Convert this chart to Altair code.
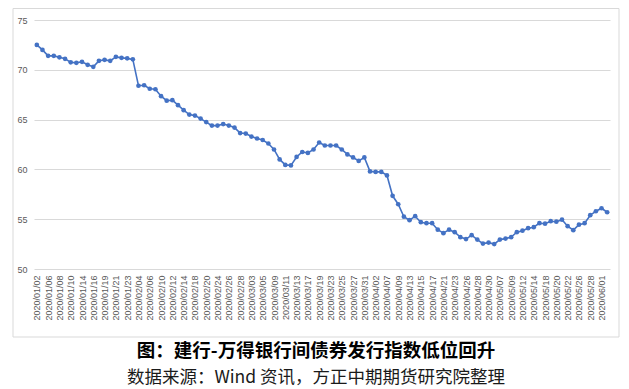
import altair as alt
import pandas as pd

dates = [
    "2020/01/02", "2020/01/03", "2020/01/06", "2020/01/07", "2020/01/08", "2020/01/09", "2020/01/10",
    "2020/01/13", "2020/01/14", "2020/01/15", "2020/01/16", "2020/01/17", "2020/01/19", "2020/01/20",
    "2020/01/21", "2020/01/22", "2020/01/23",
    "2020/02/03", "2020/02/04", "2020/02/05", "2020/02/06", "2020/02/07", "2020/02/10", "2020/02/11",
    "2020/02/12", "2020/02/13", "2020/02/14", "2020/02/17", "2020/02/18", "2020/02/19", "2020/02/20",
    "2020/02/21", "2020/02/24", "2020/02/25", "2020/02/26", "2020/02/27", "2020/02/28",
    "2020/03/02", "2020/03/03", "2020/03/04", "2020/03/05", "2020/03/06", "2020/03/09", "2020/03/10",
    "2020/03/11", "2020/03/12", "2020/03/13", "2020/03/16", "2020/03/17", "2020/03/18", "2020/03/19",
    "2020/03/20", "2020/03/23", "2020/03/24", "2020/03/25", "2020/03/26", "2020/03/27", "2020/03/30",
    "2020/03/31",
    "2020/04/01", "2020/04/02", "2020/04/03", "2020/04/07", "2020/04/08", "2020/04/09", "2020/04/10",
    "2020/04/13", "2020/04/14", "2020/04/15", "2020/04/16", "2020/04/17", "2020/04/20", "2020/04/21",
    "2020/04/22", "2020/04/23", "2020/04/24", "2020/04/26", "2020/04/27", "2020/04/28", "2020/04/29",
    "2020/04/30",
    "2020/05/06", "2020/05/07", "2020/05/08", "2020/05/09", "2020/05/11", "2020/05/12", "2020/05/13",
    "2020/05/14", "2020/05/15", "2020/05/18", "2020/05/19", "2020/05/20", "2020/05/21", "2020/05/22",
    "2020/05/25", "2020/05/26", "2020/05/27", "2020/05/28", "2020/05/29",
    "2020/06/01", "2020/06/02",
]

values = [
    72.5, 72.0, 71.4, 71.4, 71.25, 71.1, 70.75, 70.7, 70.8, 70.5,
    70.3, 70.9, 71.0, 70.9, 71.3, 71.2, 71.15, 71.05, 68.4, 68.45,
    68.1, 68.05, 67.35, 66.9, 66.95, 66.45, 65.95, 65.5, 65.4, 65.1,
    64.75, 64.4, 64.4, 64.55, 64.4, 64.2, 63.65, 63.6, 63.3, 63.1,
    62.95, 62.6, 62.0, 61.0, 60.45, 60.4, 61.25, 61.75, 61.65, 62.0,
    62.7, 62.4, 62.4, 62.4, 62.0, 61.5, 61.2, 60.85, 61.2, 59.8,
    59.75, 59.75, 59.4, 57.35, 56.5, 55.25, 54.9, 55.3, 54.7, 54.6,
    54.6, 53.95, 53.6, 53.95, 53.7, 53.2, 53.0, 53.4, 52.95, 52.55,
    52.65, 52.5, 52.95, 53.05, 53.2, 53.7, 53.85, 54.1, 54.2, 54.6,
    54.55, 54.8, 54.75, 54.95, 54.3, 53.9, 54.45, 54.6, 55.4, 55.8,
    56.1, 55.7,
]

axis_labels = dates[0:101:2]
y_ticks = [50, 55, 60, 65, 70, 75]

title_text = "图：建行-万得银行间债券发行指数低位回升"
source_text = "数据来源：Wind 资讯，方正中期期货研究院整理"

df = pd.DataFrame({"date": dates, "value": values})

BLUE = "#4472C4"
W, H = 576, 249

base = alt.Chart(df).encode(
    x=alt.X(
        "date:O",
        sort=dates,
        scale=alt.Scale(type="point", padding=0.5),
        axis=alt.Axis(
            title=None,
            values=axis_labels,
            labelAngle=-90,
            labelFontSize=9,
            labelColor="#595959",
            labelFont="Liberation Sans",
            labelPadding=6,
            ticks=False,
            domain=False,
            grid=False,
        ),
    ),
    y=alt.Y(
        "value:Q",
        scale=alt.Scale(domain=[50, 75], nice=False, zero=False),
        axis=alt.Axis(
            title=None,
            values=y_ticks,
            labelFontSize=9,
            labelColor="#595959",
            labelFont="Liberation Sans",
            labelPadding=7,
            ticks=False,
            domain=False,
            grid=True,
            gridColor="#d9d9d9",
            gridWidth=1,
        ),
    ),
)

line = base.mark_line(color=BLUE, strokeWidth=1.6, point=alt.OverlayMarkDef(filled=True, size=22, color=BLUE, opacity=1))

frame = alt.Chart(alt.Data(values=[{"k": 1}])).mark_rect(
    filled=False, stroke="#d9d9d9", strokeWidth=1, clip=False
).encode(
    x=alt.value(-21), x2=alt.value(585), y=alt.value(-11.5), y2=alt.value(317)
)

title = alt.Chart(alt.Data(values=[{"t": title_text}])).mark_text(
    font="Noto Sans CJK SC", fontSize=18.5, fontWeight="bold", color="#000000",
    align="center", baseline="middle",
).encode(text="t:N", x=alt.value(282), y=alt.value(331))

source = alt.Chart(alt.Data(values=[{"t": source_text}])).mark_text(
    font="Noto Sans CJK SC", fontSize=17.5, color="#1a1a1a",
    align="center", baseline="middle",
).encode(text="t:N", x=alt.value(282), y=alt.value(358))

chart = alt.layer(frame, line, title, source).properties(
    width=W,
    height=H,
    autosize=alt.AutoSizeParams(type="none"),
    padding={"left": 26, "top": 12, "right": 11, "bottom": 120},
).configure_view(stroke=None)

chart.save("out.html", embed_options={"renderer": "svg", "actions": False})
